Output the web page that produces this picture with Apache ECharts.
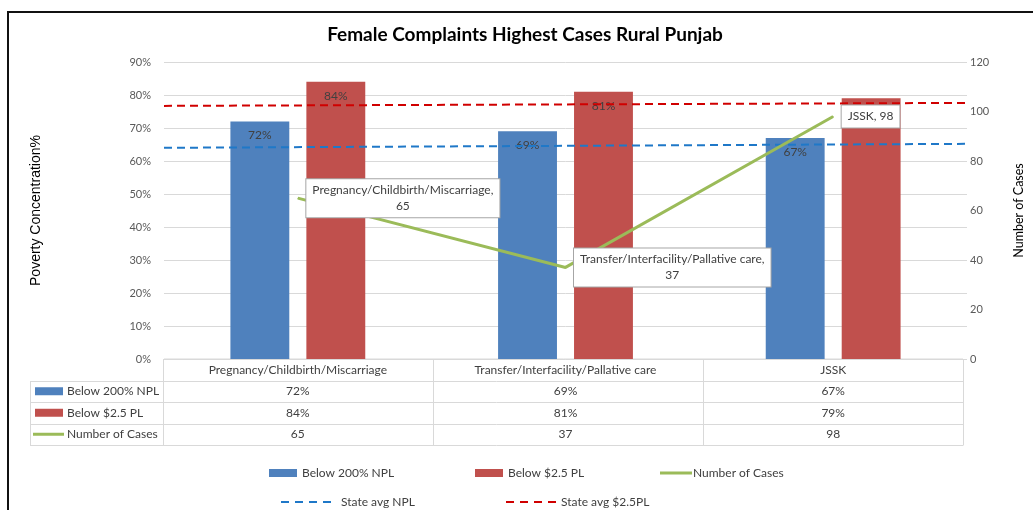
<!DOCTYPE html>
<html>
<head>
<meta charset="utf-8">
<script src="https://cdn.jsdelivr.net/npm/echarts@6/dist/echarts.min.js"></script>
<style>
  html, body { margin: 0; padding: 0; background: #fff; }
  #chart { width: 1033px; height: 510px; }
</style>
</head>
<body>
<div id="chart"></div>
<script>
// data
const categories = ['Pregnancy/Childbirth/Miscarriage', 'Transfer/Interfacility/Pallative care', 'JSSK']
const below200NPL = [72, 69, 67]
const below25PL = [84, 81, 79]
const numberOfCases = [65, 37, 98]
// state averages drawn across the full plot width (start, end)
const avgPoints = ['start', 'end']
const stateAvgNPL = [64.0, 65.2]
const stateAvgPL = [76.7, 77.6]

const FONT = 'Lato'
const TXT = '#404040'
const GRID = { left: 164, right: 61, top: 62, bottom: 151 }
const ROW_H = 21.5
const BORDER = '#d9d9d9'
const TABLE_RIGHT = 963

const chart = echarts.init(document.getElementById('chart'))

function tableAxis(idx, values, fmt) {
  return {
    type: 'category',
    data: categories,
    position: 'bottom',
    offset: ROW_H * idx,
    axisLine: { show: false },
    axisTick: { show: false },
    axisLabel: {
      margin: 5,
      fontFamily: FONT,
      fontSize: 12,
      color: TXT,
      formatter: (v, i) => fmt(values[i]),
    },
  }
}

// table borders and header cells
const tableTop = 510 - GRID.bottom
const colW = (1033 - GRID.right - GRID.left) / categories.length
const graphics = []
const line = (x1, y1, x2, y2, color, w) => ({
  type: 'line', silent: true,
  shape: { x1, y1, x2, y2 },
  style: { stroke: color, lineWidth: w || 1 },
})
graphics.push(line(GRID.left, tableTop, TABLE_RIGHT, tableTop, BORDER))
for (let r = 1; r <= 4; r++) {
  const y = Math.round(tableTop + ROW_H * r) + 0.5
  graphics.push(line(30, y, TABLE_RIGHT, y, BORDER))
}
const tableBottom = Math.round(tableTop + ROW_H * 4) + 0.5
graphics.push(line(30.5, Math.round(tableTop + ROW_H), 30.5, tableBottom, BORDER))
const colX = [GRID.left - 1, GRID.left + colW, GRID.left + colW * 2, TABLE_RIGHT]
colX.forEach(x => {
  const px = Math.round(x) + 0.5
  graphics.push(line(px, tableTop, px, tableBottom, BORDER))
})
const headers = [
  { name: 'Below 200% NPL', key: 'rect', color: '#4f81bd' },
  { name: 'Below $2.5 PL', key: 'rect', color: '#c0504d' },
  { name: 'Number of Cases', key: 'line', color: '#9bbb59' },
]
headers.forEach((h, i) => {
  const cy = tableTop + ROW_H * (i + 1.5)
  if (h.key === 'rect') {
    graphics.push({ type: 'rect', silent: true, shape: { x: 35, y: cy - 4, width: 28, height: 8 }, style: { fill: h.color } })
  } else {
    graphics.push(line(33, cy, 64, cy, h.color, 3))
  }
  graphics.push({
    type: 'text', silent: true, x: 67, y: cy,
    style: { text: h.name, fontFamily: FONT, fontSize: 12, fill: TXT, verticalAlign: 'middle' },
  })
})
// outer chart frame
graphics.push({ type: 'rect', silent: true, shape: { x: 8, y: 12, width: 1100, height: 600 }, style: { fill: 'none', stroke: '#111', lineWidth: 2 } })

const legendText = { fontFamily: FONT, fontSize: 12, color: TXT }
const solidIcon = 'path://M0,0H32V3H0Z'
const dashIcon = 'path://M0,0H8V2H0Z M14,0H22V2H14Z M28,0H36V2H28Z M42,0H50V2H42Z'

const option = {
  backgroundColor: '#fff',
  animation: false,
  title: {
    text: 'Female Complaints Highest Cases Rural Punjab',
    left: 520, top: 20, textAlign: 'center',
    textStyle: { fontFamily: FONT, fontSize: 19, fontWeight: 'bold', color: '#000' },
  },
  grid: GRID,
  legend: [
    { data: ['Below 200% NPL'], left: 269, top: 467, padding: 0, icon: 'rect', itemWidth: 28, itemHeight: 8, textStyle: legendText },
    { data: ['Below $2.5 PL'], left: 475, top: 467, padding: 0, icon: 'rect', itemWidth: 28, itemHeight: 8, textStyle: legendText },
    { data: ['Number of Cases'], left: 660, top: 467, padding: 0, icon: solidIcon, itemWidth: 32, itemHeight: 3, textStyle: Object.assign({ padding: [0, 0, 0, -4] }, legendText) },
    { data: ['State avg NPL'], left: 281, top: 496, padding: 0, icon: dashIcon, itemWidth: 50, itemHeight: 2, textStyle: Object.assign({ padding: [0, 0, 0, 5] }, legendText) },
    { data: ['State avg $2.5PL'], left: 506, top: 496, padding: 0, icon: dashIcon, itemWidth: 50, itemHeight: 2, textStyle: legendText },
  ],
  xAxis: [
    {
      type: 'category',
      data: categories,
      axisLine: { show: false },
      axisTick: { show: false },
      axisLabel: { margin: 5, fontFamily: FONT, fontSize: 12, color: TXT },
    },
    { type: 'category', data: avgPoints, boundaryGap: false, show: false },
    tableAxis(1, below200NPL, v => v + '%'),
    tableAxis(2, below25PL, v => v + '%'),
    tableAxis(3, numberOfCases, v => String(v)),
  ],
  yAxis: [
    {
      type: 'value', min: 0, max: 90, interval: 10,
      name: 'Poverty Concentration%', nameLocation: 'middle', nameGap: 121,
      nameTextStyle: { fontFamily: 'Liberation Sans', fontSize: 14, color: '#000' },
      axisLine: { show: false }, axisTick: { show: false },
      axisLabel: { formatter: '{value}%', margin: 13, fontFamily: FONT, fontSize: 11, color: '#595959' },
      splitLine: { lineStyle: { color: BORDER } },
    },
    {
      type: 'value', min: 0, max: 120, interval: 20, position: 'right',
      name: 'Number of Cases', nameLocation: 'middle', nameGap: 45,
      nameTextStyle: { fontFamily: FONT, fontSize: 12.5, color: '#000' },
      axisLine: { show: false }, axisTick: { show: false },
      axisLabel: { margin: 3, fontFamily: FONT, fontSize: 11, color: '#595959' },
      splitLine: { show: false },
    },
  ],
  series: [
    {
      name: 'Below 200% NPL', type: 'bar', data: below200NPL,
      barWidth: '22%', barGap: '29%', barCategoryGap: '50%',
      itemStyle: { color: '#4f81bd' },
      label: { show: true, position: 'insideTop', distance: 8, formatter: '{c}%', fontFamily: FONT, fontSize: 12, color: TXT },
      z: 2,
    },
    {
      name: 'Below $2.5 PL', type: 'bar', data: below25PL,
      barWidth: '22%',
      itemStyle: { color: '#c0504d' },
      label: { show: true, position: 'insideTop', distance: 8, formatter: '{c}%', fontFamily: FONT, fontSize: 12, color: TXT },
      z: 2,
    },
    {
      name: 'State avg NPL', type: 'line', xAxisIndex: 1, yAxisIndex: 0, data: stateAvgNPL,
      symbol: 'none', lineStyle: { color: '#1f78c8', width: 2, type: [8, 5] }, itemStyle: { color: '#1f78c8' },
      z: 3,
    },
    {
      name: 'State avg $2.5PL', type: 'line', xAxisIndex: 1, yAxisIndex: 0, data: stateAvgPL,
      symbol: 'none', lineStyle: { color: '#d00000', width: 2, type: [8, 5] }, itemStyle: { color: '#d00000' },
      z: 3,
    },
    {
      name: 'Number of Cases', type: 'line', yAxisIndex: 1, data: numberOfCases,
      symbol: 'circle', symbolSize: 1, showSymbol: true,
      lineStyle: { color: '#9bbb59', width: 3 }, itemStyle: { color: '#9bbb59' },
      z: 5, zlevel: 1,
      label: {
        show: true, position: 'right', distance: 8,
        backgroundColor: '#fff', borderColor: '#a6a6a6', borderWidth: 1, padding: [3, 6],
        formatter: p => {
          const t = p.name.length > 10 ? p.name + ',\n' + p.value : p.name + ', ' + p.value
          return t.split('\n').map(s => '{c|' + s + '}').join('\n')
        },
        rich: { c: { align: 'center', fontFamily: FONT, fontSize: 12, color: TXT, lineHeight: 16 } },
      },
    },
  ],
  graphic: graphics,
}

chart.setOption(option)
</script>
</body>
</html>
